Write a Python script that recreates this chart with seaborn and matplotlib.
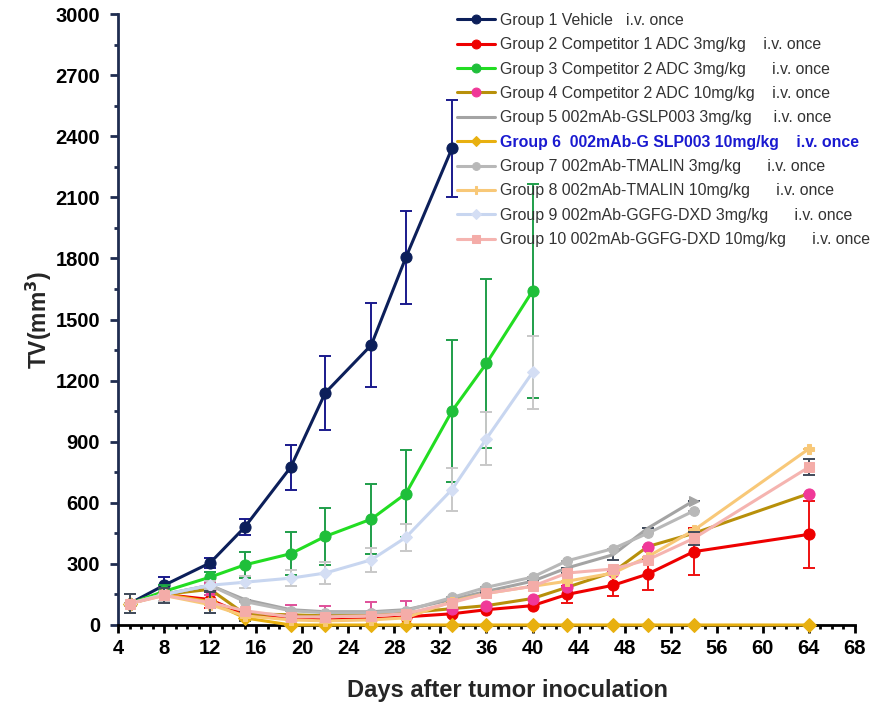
import numpy as np
import pandas as pd
import seaborn as sns
import matplotlib.pyplot as plt
from matplotlib.ticker import MultipleLocator

# Data #######################################################################

days = [5, 8, 12, 15, 19, 22, 26, 29, 33, 36, 40, 43, 47, 50, 54, 64]

labels = [
    'Group 1 Vehicle   i.v. once',
    'Group 2 Competitor 1 ADC 3mg/kg    i.v. once',
    'Group 3 Competitor 2 ADC 3mg/kg      i.v. once',
    'Group 4 Competitor 2 ADC 10mg/kg    i.v. once',
    'Group 5 002mAb-GSLP003 3mg/kg     i.v. once',
    'Group 6  002mAb-G SLP003 10mg/kg    i.v. once',
    'Group 7 002mAb-TMALIN 3mg/kg      i.v. once',
    'Group 8 002mAb-TMALIN 10mg/kg      i.v. once',
    'Group 9 002mAb-GGFG-DXD 3mg/kg      i.v. once',
    'Group 10 002mAb-GGFG-DXD 10mg/kg      i.v. once',
]

g1 = [105, 195, 305, 480, 775, 1140, 1375, 1805, 2340]
g1_err = [45, 40, 25, 40, 110, 180, 205, 230, 240]

g2 = [105, 150, 125, 50, 30, 25, 30, 40, 55, 75, 95, 150, 195, 250, 360, 445]
g2_err = [45, 30, 40, 15, 0, 0, 0, 0, 0, 0, 0, 40, 55, 80, 115, 165]

g3 = [105, 165, 235, 295, 350, 435, 520, 645, 1050, 1285, 1640]
g3_err = [45, 30, 25, 65, 105, 140, 170, 215, 350, 415, 525]

g4 = [105, 150, 175, 55, 50, 45, 55, 60, 80, 95, 130, 185, 260, 385, 450, 645]
g4_err = [45, 30, 30, 0, 50, 50, 60, 60, 0, 0, 0, 0, 0, 0, 0, 0]

g5 = [105, 150, 195, 125, 75, 65, 65, 75, 125, 165, 215, 280, 345, 475, 610]
g5_err = [0, 0, 0, 0, 0, 0, 0, 0, 0, 0, 0, 0, 25, 0, 0]

g6 = [105, 150, 115, 35, 0, 0, 0, 0, 0, 0, 0, 0, 0, 0, 0, 0]
g6_err = [45, 30, 55, 15, 0, 0, 0, 0, 0, 0, 0, 0, 0, 0, 0, 0]

g7 = [105, 150, 195, 115, 70, 60, 60, 70, 135, 185, 235, 315, 375, 450, 560]
g7_err = [0, 0, 0, 0, 0, 0, 0, 0, 0, 0, 0, 0, 0, 0, 0]

g8 = [105, 145, 100, 45, 25, 20, 25, 35, 115, 155, 190, 215, 255, 335, 465, 865]
g8_err = [0, 0, 0, 0, 0, 0, 0, 0, 0, 0, 0, 0, 0, 0, 0, 0]

g9 = [105, 150, 195, 210, 230, 255, 320, 430, 665, 915, 1240]
g9_err = [45, 30, 20, 30, 40, 55, 60, 65, 105, 130, 180]

g10 = [105, 145, 110, 70, 40, 40, 45, 55, 110, 155, 190, 255, 275, 320, 425, 775]
g10_err = [45, 35, 50, 0, 0, 0, 0, 0, 0, 0, 0, 0, 0, 0, 30, 40]

series = [g1, g2, g3, g4, g5, g6, g7, g8, g9, g10]
errors = [g1_err, g2_err, g3_err, g4_err, g5_err, g6_err, g7_err, g8_err, g9_err, g10_err]

# Styles ######################################################################

line_colors = ['#0c1f5a', '#ee0000', '#22dd22', '#b8900a', '#a4a4a4',
               '#e8b010', '#b8b8b8', '#f8c878', '#c8d6f0', '#f5b4b0']
marker_colors = ['#0c1f5a', '#ee0000', '#1fbf3a', '#f03898', '#a4a4a4',
                 '#e8b010', '#b8b8b8', '#f8c878', '#d4def4', '#f4aca8']
err_colors = ['#1a1a8c', '#ee1010', '#1f9e4a', '#e0509a', '#404a5a',
              '#404a5a', '#a8a8a8', '#f0c070', '#c8c8c8', '#404a5a']
markers = ['o', 'o', 'o', 'o', '>', 'D', 'o', 'P', 'D', 's']
msizes = [8, 8, 8, 8, 7, 7, 7, 7, 6, 7]

sns.set_style('white')
plt.rcParams['font.family'] = ['Liberation Sans', 'DejaVu Sans']

fig = plt.figure(figsize=(8.71, 7.05), dpi=100)
ax = fig.add_axes([0.1355, 0.1135, 0.846, 0.8665])

for i, (vals, errs) in enumerate(zip(series, errors)):
    x = days[:len(vals)]
    df = pd.DataFrame({'day': x, 'tv': vals})
    z = 3 + i * 0.1
    extra = {}
    if i == 4:
        # grey series only has an arrow head at its last point
        extra['markevery'] = [len(vals) - 1]
    ax.errorbar(x, vals, yerr=errs, fmt='none', ecolor=err_colors[i],
                elinewidth=1.4, capsize=4, capthick=1.4, zorder=z - 0.05)
    sns.lineplot(data=df, x='day', y='tv', ax=ax, color=line_colors[i],
                 linewidth=2.2, marker=markers[i], markersize=msizes[i],
                 markerfacecolor=marker_colors[i],
                 markeredgecolor=marker_colors[i], label=labels[i],
                 zorder=z, clip_on=False, **extra)

ax.set_xlim(4, 68)
ax.set_ylim(0, 3000)
ax.xaxis.set_major_locator(MultipleLocator(4))
ax.xaxis.set_minor_locator(MultipleLocator(1))
ax.yaxis.set_major_locator(MultipleLocator(300))
ax.yaxis.set_minor_locator(MultipleLocator(150))

for s in ['top', 'right']:
    ax.spines[s].set_visible(False)
ax.spines['left'].set_color('#1f2d50')
ax.spines['left'].set_linewidth(2)
ax.spines['bottom'].set_color('black')
ax.spines['bottom'].set_linewidth(2)

ax.tick_params(axis='both', which='major', direction='out', length=6,
               width=2, labelsize=14.5)
ax.tick_params(axis='y', which='major', pad=7)
ax.tick_params(axis='x', which='major', pad=4)
ax.tick_params(axis='both', which='minor', direction='out', length=3,
               width=2)
ax.tick_params(axis='y', which='both', colors='#1f2d50', labelcolor='black')
ax.tick_params(axis='x', which='both', colors='black')
ax.tick_params(left=True, bottom=True, which='both')
for t in ax.get_xticklabels() + ax.get_yticklabels():
    t.set_fontweight('bold')

ax.set_xlabel('Days after tumor inoculation', fontsize=17,
              fontweight='bold', va='center')
ax.xaxis.set_label_coords(0.528, -0.107)
ax.set_ylabel('TV(mm$^\\mathbf{3}$)', fontsize=16.5, fontweight='bold',
              va='center')
ax.yaxis.set_label_coords(-0.108, 0.5)

leg = ax.legend(loc='upper left', bbox_to_anchor=(457 / 871, 1 - 13 / 705),
                bbox_transform=fig.transFigure, frameon=False, fontsize=11.4,
                labelspacing=0.59, handlelength=2.4, handletextpad=0.3,
                borderpad=0, borderaxespad=0, markerscale=0.8)
leg.legend_handles[4].set_marker('None')
for j, txt in enumerate(leg.get_texts()):
    txt.set_color('#333333')
    if j == 5:
        txt.set_color('#1a1ad0')
        txt.set_fontweight('bold')

plt.savefig('out.png', dpi=100)
